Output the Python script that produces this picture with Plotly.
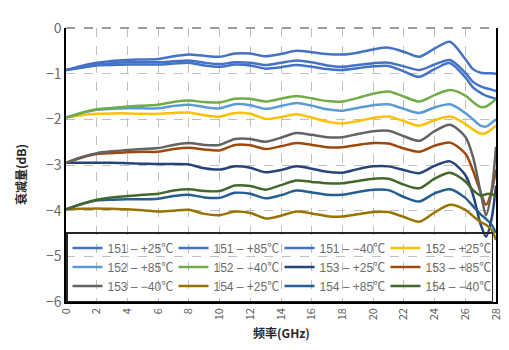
import plotly.graph_objects as go

freq = [0, 1, 2, 3, 4, 5, 6, 7, 8, 9, 10, 11, 12, 13, 14, 15, 16, 17, 18, 19, 20,
        21, 22, 23, 24, 25, 26, 26.5, 27, 27.35, 27.7, 28]

names = ["151 – +25℃", "151 – +85℃", "151 – −40℃", "152 – +25℃",
         "152 – +85℃", "152 – −40℃", "153 – +25℃", "153 – +85℃",
         "153 – −40℃", "154 – +25℃", "154 – +85℃", "154 – −40℃"]

s151_25 = [-0.92, -0.83, -0.76, -0.72, -0.70, -0.69, -0.68, -0.62, -0.58, -0.61, -0.63, -0.56,
           -0.56, -0.62, -0.57, -0.50, -0.53, -0.57, -0.58, -0.54, -0.47, -0.43, -0.52, -0.63,
           -0.45, -0.30, -0.68, -0.90, -0.98, -0.99, -0.99, -1.00]
s151_85 = [-0.92, -0.86, -0.80, -0.77, -0.75, -0.75, -0.75, -0.73, -0.71, -0.76, -0.79, -0.75,
           -0.76, -0.81, -0.76, -0.71, -0.75, -0.82, -0.85, -0.81, -0.77, -0.76, -0.84, -0.92,
           -0.80, -0.70, -0.98, -1.18, -1.28, -1.32, -1.35, -1.38]
s151_m40 = [-0.92, -0.87, -0.82, -0.81, -0.80, -0.80, -0.80, -0.78, -0.76, -0.82, -0.85, -0.80,
            -0.82, -0.89, -0.86, -0.81, -0.85, -0.90, -0.92, -0.88, -0.84, -0.83, -0.95, -1.07,
            -0.90, -0.77, -1.08, -1.30, -1.42, -1.48, -1.52, -1.55]
s152_25 = [-1.96, -1.91, -1.88, -1.87, -1.87, -1.88, -1.88, -1.86, -1.85, -1.91, -1.94, -1.86,
           -1.88, -1.99, -1.95, -1.89, -1.96, -2.05, -2.09, -2.04, -1.97, -1.94, -2.04, -2.14,
           -2.02, -1.94, -2.10, -2.22, -2.31, -2.30, -2.22, -2.14]
s152_85 = [-1.96, -1.86, -1.79, -1.77, -1.76, -1.76, -1.76, -1.71, -1.68, -1.73, -1.76, -1.67,
           -1.69, -1.77, -1.71, -1.64, -1.70, -1.78, -1.81, -1.75, -1.69, -1.67, -1.77, -1.86,
           -1.74, -1.67, -1.86, -2.00, -2.14, -2.16, -2.08, -2.00]
s152_m40 = [-1.96, -1.86, -1.78, -1.75, -1.72, -1.70, -1.68, -1.62, -1.59, -1.62, -1.63, -1.55,
            -1.55, -1.61, -1.55, -1.49, -1.54, -1.60, -1.61, -1.53, -1.44, -1.39, -1.50, -1.61,
            -1.47, -1.36, -1.48, -1.62, -1.73, -1.72, -1.64, -1.56]
s153_25 = [-2.95, -2.95, -2.95, -2.95, -2.96, -2.97, -2.98, -2.98, -2.99, -3.07, -3.10, -3.03,
           -3.06, -3.16, -3.11, -3.03, -3.08, -3.15, -3.17, -3.09, -3.03, -3.03, -3.11, -3.18,
           -3.02, -2.92, -3.22, -3.65, -4.30, -4.57, -4.20, -3.45]
s153_85 = [-2.95, -2.84, -2.76, -2.74, -2.72, -2.71, -2.71, -2.65, -2.62, -2.66, -2.68, -2.56,
           -2.57, -2.65, -2.59, -2.52, -2.56, -2.61, -2.61, -2.56, -2.52, -2.53, -2.64, -2.71,
           -2.58, -2.51, -2.75, -3.12, -3.60, -3.87, -3.60, -3.10]
s153_m40 = [-2.95, -2.83, -2.74, -2.70, -2.67, -2.65, -2.63, -2.56, -2.52, -2.56, -2.56, -2.43,
            -2.43, -2.49, -2.40, -2.30, -2.34, -2.39, -2.39, -2.32, -2.26, -2.25, -2.37, -2.47,
            -2.26, -2.12, -2.38, -2.82, -3.60, -4.10, -3.60, -2.60]
s154_25 = [-3.97, -3.96, -3.95, -3.96, -3.97, -3.99, -4.02, -4.00, -3.98, -4.07, -4.10, -4.02,
           -4.05, -4.17, -4.11, -4.02, -4.06, -4.12, -4.13, -4.08, -4.03, -4.03, -4.14, -4.24,
           -4.04, -3.87, -3.98, -4.12, -4.25, -4.31, -4.42, -4.64]
s154_85 = [-3.97, -3.86, -3.78, -3.76, -3.75, -3.75, -3.74, -3.68, -3.65, -3.71, -3.72, -3.61,
           -3.63, -3.73, -3.66, -3.56, -3.60, -3.65, -3.65, -3.59, -3.54, -3.55, -3.70, -3.80,
           -3.62, -3.53, -3.72, -3.90, -4.08, -4.18, -4.30, -4.49]
s154_m40 = [-3.97, -3.85, -3.76, -3.71, -3.68, -3.65, -3.63, -3.56, -3.53, -3.57, -3.57, -3.45,
            -3.46, -3.54, -3.44, -3.34, -3.37, -3.40, -3.40, -3.35, -3.30, -3.30, -3.43, -3.51,
            -3.30, -3.17, -3.36, -3.55, -3.67, -3.64, -3.63, -3.71]

series = [s151_25, s151_85, s151_m40, s152_25, s152_85, s152_m40,
          s153_25, s153_85, s153_m40, s154_25, s154_85, s154_m40]
colors = ["#4472C4", "#4472C4", "#4472C4", "#FFC000", "#5B9BD5", "#70AD47",
          "#264478", "#9E480E", "#636363", "#997300", "#255E91", "#43682B"]

x_ticks = list(range(0, 29, 2))
y_ticks = [0, -1, -2, -3, -4, -5, -6]

FONT = "Noto Sans CJK SC"
LEG_FONT = "Liberation Sans, Noto Sans CJK SC"

fig = go.Figure()
for name, vals, col in zip(names, series, colors):
    fig.add_trace(go.Scatter(x=freq, y=vals, name=name, mode="lines",
                             line=dict(color=col, width=2.5, shape="spline", smoothing=0.8)))

# page has an 8px body margin: figure is 501x342 placed at (8, 8)
fig.update_layout(
    width=501, height=342,
    margin=dict(l=58, r=13, t=20, b=48),
    paper_bgcolor="white", plot_bgcolor="white",
    font=dict(family=FONT, color="#595959"),
    showlegend=True,
    legend=dict(orientation="h", x=0, y=0, xanchor="left", yanchor="bottom",
                entrywidth=61, entrywidthmode="pixels", itemwidth=30,
                bgcolor="rgba(255,255,255,0)", bordercolor="#262626", borderwidth=1.5,
                font=dict(size=12, color="#6b6b6b", family=LEG_FONT),
                tracegroupgap=0),
    xaxis=dict(range=[0, 28], tickvals=x_ticks, ticktext=[str(v) for v in x_ticks],
               tickangle=-90, tickfont=dict(size=11, color="#595959"), automargin=False,
               showgrid=True, gridcolor="#BFBFBF", griddash="dash", gridwidth=1,
               showline=True, linecolor="black", linewidth=1.5, zeroline=False,
               ticks=""),
    yaxis=dict(range=[-6, 0], tickvals=y_ticks, automargin=False,
               tickfont=dict(size=14, color="#6b6b6b"),
               showgrid=True, gridcolor="#BFBFBF", griddash="dash", gridwidth=1,
               showline=True, linecolor="black", linewidth=1.5, mirror=True, zeroline=False,
               ticks=""),
)

fig.add_annotation(text="<b>频率(GHz)</b>", xref="paper", yref="paper",
                   x=0.5, y=(294 - 324) / 274, yanchor="middle", xanchor="center",
                   showarrow=False, font=dict(size=12, color="#262626", family=FONT))
fig.add_annotation(text="<b>衰减量(dB)</b>", xref="paper", yref="paper",
                   x=0, y=0.5, xanchor="center", yanchor="middle", showarrow=False,
                   xshift=-(58 - 12), yshift=-10, textangle=-90,
                   font=dict(size=12, color="#262626", family=FONT))

fig.add_shape(type="line", xref="paper", yref="paper",
              x0=0, x1=1, y0=1, y1=1, line=dict(color="#7F7F7F", width=1.5, dash="dash"))

fig.write_html("out.html")
